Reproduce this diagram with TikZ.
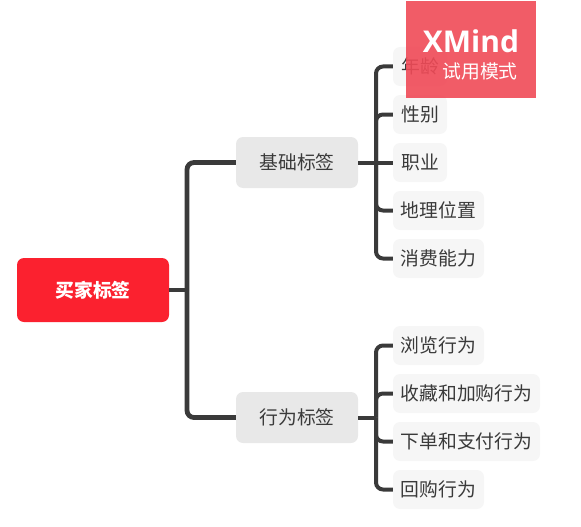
\documentclass[tikz,border=0pt]{standalone}
\usepackage{fontspec}
\setmainfont{Noto Sans CJK SC}
\newfontfamily\latinwm{Open Sans}
\definecolor{rootred}{HTML}{FB212F}
\definecolor{midgrey}{HTML}{E8E8E8}
\definecolor{leafgrey}{HTML}{F6F6F6}
\definecolor{inkgrey}{HTML}{3A3A3A}
\definecolor{markred}{HTML}{F04A57}
\tikzset{
  x=1pt,y=-1pt,
  rootbox/.style={fill=rootred,rounded corners=7pt,minimum width=152pt,minimum height=64pt,inner sep=0pt,text=white,font=\fontsize{18.8pt}{20pt}\selectfont\bfseries},
  midbox/.style={fill=midgrey,rounded corners=7pt,minimum width=122pt,minimum height=51pt,inner sep=0pt,text=inkgrey,font=\fontsize{18.8pt}{20pt}\selectfont},
  leafbox/.style={fill=leafgrey,rounded corners=7pt,minimum height=39pt,inner sep=0pt,text=inkgrey,font=\fontsize{18.8pt}{20pt}\selectfont},
  mainline/.style={draw=inkgrey,line width=4.8pt},
  subline/.style={draw=inkgrey,line width=4pt},
}
\begin{document}
\begin{tikzpicture}
\useasboundingbox (0,0) rectangle (581,527);
\node[rootbox] (root) at (93,290) {买家标签};
\node[midbox] (basic) at (297,162.5) {基础标签};
\node[midbox] (behav) at (297,417.5) {行为标签};
\node[leafbox,minimum width=54pt] (age) at (420,66.5) {年龄};
\node[leafbox,minimum width=54pt] (sex) at (420,114.5) {性别};
\node[leafbox,minimum width=54pt] (job) at (420,162.5) {职业};
\node[leafbox,minimum width=91pt] (geo) at (438.5,210.5) {地理位置};
\node[leafbox,minimum width=91pt] (spend) at (438.5,258.5) {消费能力};
\node[leafbox,minimum width=91pt] (browse) at (438.5,345.5) {浏览行为};
\node[leafbox,minimum width=147pt] (fav) at (466.5,393.5) {收藏和加购行为};
\node[leafbox,minimum width=147pt] (pay) at (466.5,441.5) {下单和支付行为};
\node[leafbox,minimum width=91pt] (rebuy) at (438.5,489.5) {回购行为};
\coordinate (j0) at (187,290);
\coordinate (j1) at (376,162.5);
\coordinate (j2) at (376,417.5);
\draw[mainline] (root.east) -- (j0);
\draw[mainline,rounded corners=7pt] (j0) |- (basic.west);
\draw[mainline,rounded corners=7pt] (j0) |- (behav.west);
\draw[subline] (basic.east) -- (job.west);
\draw[subline,rounded corners=7pt] (j1) |- (age.west);
\draw[subline,rounded corners=7pt] (j1) |- (sex.west);
\draw[subline,rounded corners=7pt] (j1) |- (geo.west);
\draw[subline,rounded corners=7pt] (j1) |- (spend.west);
\draw[subline] (behav.east) -- (j2);
\draw[subline,rounded corners=7pt] (j2) |- (browse.west);
\draw[subline,rounded corners=7pt] (j2) |- (fav.west);
\draw[subline,rounded corners=7pt] (j2) |- (pay.west);
\draw[subline,rounded corners=7pt] (j2) |- (rebuy.west);
\node[fill=markred,fill opacity=0.9,minimum width=130pt,minimum height=97pt,inner sep=0pt] (mark) at (471,49.5) {};
\node[text=white,font=\latinwm\bfseries\fontsize{30pt}{32pt}\selectfont,inner sep=0pt] (marka) at (471,41) {XMind};
\node[text=white,font=\fontsize{18.8pt}{20pt}\selectfont,inner sep=0pt] (markb) at (480,71.5) {试用模式};
\end{tikzpicture}
\end{document}
